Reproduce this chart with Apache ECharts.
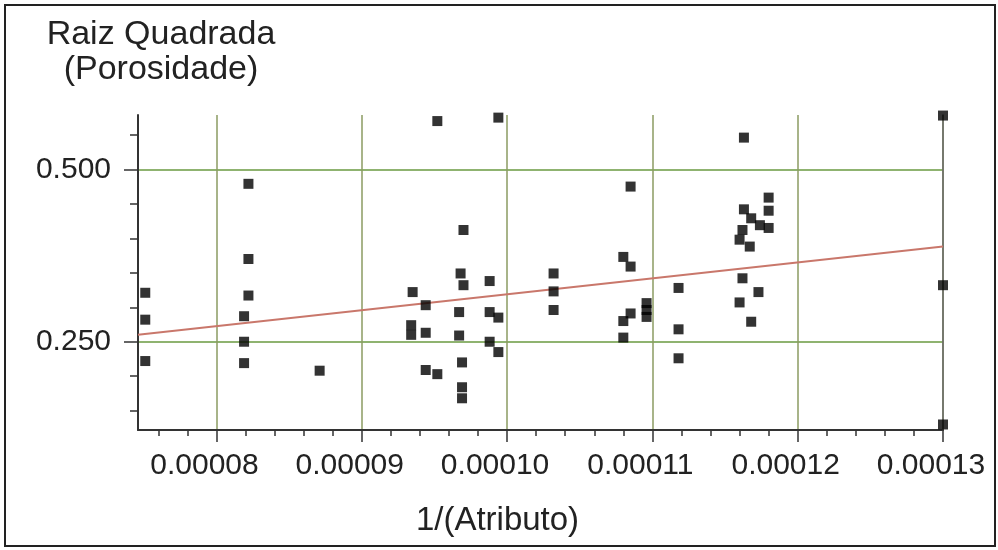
<!DOCTYPE html>
<html lang="pt">
<head>
  <meta charset="UTF-8" />
  <title>Raiz Quadrada (Porosidade)</title>
  <style>
    body { margin: 0; background: #fff }
    #chart { width: 998px; height: 550px }
  </style>
  <script src="https://cdn.jsdelivr.net/npm/echarts@6/dist/echarts.min.js"></script>
</head>
<body>
  <div id="chart"></div>
  <script>
    // eixos
    const xMin = 0.0000746, xMax = 0.00013;
    const yMin = 0.122, yMax = 0.5788;
    const xMajorTicks = [0.00008, 0.00009, 0.00010, 0.00011, 0.00012, 0.00013];
    const yMajorTicks = [0.25, 0.5];
    const yMinorTicks = [0.15, 0.2, 0.25, 0.3, 0.35, 0.4, 0.45, 0.5, 0.55];

    // pontos
    const xVals = [
      0.0000751, 0.0000751, 0.0000751,
      0.0000822, 0.0000822, 0.0000822, 0.0000819, 0.0000819, 0.0000819,
      0.0000871,
      0.0000952, 0.0000994, 0.0000970, 0.0000968, 0.0000970, 0.0000988,
      0.0000935, 0.0000944, 0.0000967, 0.0000988, 0.0000994, 0.0000934,
      0.0000934, 0.0000944, 0.0000967, 0.0000988, 0.0000994, 0.0000944,
      0.0000952, 0.0000969, 0.0000969, 0.0000969,
      0.0001032, 0.0001032, 0.0001032,
      0.0001085, 0.0001080, 0.0001085, 0.0001085, 0.0001080, 0.0001080,
      0.0001096, 0.0001096, 0.0001096,
      0.0001118, 0.0001118, 0.0001118,
      0.0001163, 0.0001180, 0.0001180, 0.0001180, 0.0001163, 0.0001168,
      0.0001174, 0.0001162, 0.0001160, 0.0001167, 0.0001162, 0.0001173,
      0.0001160, 0.0001168,
      0.00013, 0.00013, 0.00013
    ];
    const yVals = [
      0.321, 0.282, 0.222,
      0.479, 0.370, 0.317, 0.287, 0.250, 0.219,
      0.208,
      0.570, 0.575, 0.412, 0.349, 0.332, 0.338,
      0.322, 0.303, 0.293, 0.293, 0.285, 0.274,
      0.260, 0.263, 0.259, 0.250, 0.235, 0.209,
      0.203, 0.220, 0.184, 0.168,
      0.349, 0.323, 0.296,
      0.475, 0.373, 0.359, 0.291, 0.280, 0.256,
      0.306, 0.296, 0.286,
      0.328, 0.268, 0.226,
      0.546, 0.459, 0.440, 0.415, 0.442, 0.429,
      0.419, 0.412, 0.398, 0.388, 0.342, 0.322,
      0.307, 0.279,
      0.578, 0.332, 0.130
    ];

    // reta de regressao
    const trendX = [0.0000746, 0.00013];
    const trendY = [0.260, 0.388];

    // ticks menores do eixo x (a cada 0.000002)
    const xMinorTicks = [];
    for (let i = 38; i <= 65; i++) xMinorTicks.push(i * 0.000002);

    const font = "'Liberation Sans', Arial, sans-serif";
    const tickColor = '#333';

    const chart = echarts.init(document.getElementById('chart'));
    chart.setOption({
      backgroundColor: '#fff',
      animation: false,
      title: {
        text: 'Raiz Quadrada\n(Porosidade)',
        left: 161, top: 17, padding: 0,
        textAlign: 'center',
        textStyle: { fontFamily: font, fontSize: 34, fontWeight: 'normal', color: '#222', lineHeight: 35 }
      },
      graphic: [{
        type: 'rect',
        shape: { x: 5, y: 5, width: 990, height: 541 },
        style: { fill: 'none', stroke: '#222', lineWidth: 2 }
      }],
      grid: { left: 138, right: 55, top: 115, bottom: 120 },
      xAxis: [
        {
          type: 'value', min: xMin, max: xMax, position: 'bottom',
          name: '1/(Atributo)', nameLocation: 'middle', nameGap: 74,
          nameTextStyle: { fontFamily: font, fontSize: 33, color: '#222', padding: [0, 86, 0, 0] },
          axisLine: { lineStyle: { color: tickColor, width: 2 } },
          axisTick: { customValues: xMajorTicks, length: 12, lineStyle: { color: tickColor, width: 1.5 } },
          axisLabel: {
            customValues: xMajorTicks, margin: 21, padding: [0, 24, 0, 0],
            fontFamily: font, fontSize: 30, color: '#222',
            formatter: v => v.toFixed(5)
          },
          splitLine: { show: true, lineStyle: { color: '#8b9b62', width: 1.5 } }
        },
        {
          type: 'value', min: xMin, max: xMax, position: 'bottom',
          axisLine: { show: false },
          axisTick: { customValues: xMinorTicks, length: 6, lineStyle: { color: tickColor, width: 1.5 } },
          axisLabel: { show: false },
          splitLine: { show: false }
        }
      ],
      yAxis: [
        {
          type: 'value', min: yMin, max: yMax, position: 'left',
          axisLine: { show: true, lineStyle: { color: tickColor, width: 2 } },
          axisTick: { show: true, customValues: yMajorTicks, length: 14, lineStyle: { color: tickColor, width: 1.5 } },
          axisLabel: {
            customValues: yMajorTicks, margin: 27,
            fontFamily: font, fontSize: 30, color: '#222',
            formatter: v => v.toFixed(3)
          },
          splitLine: { show: true, lineStyle: { color: '#6a9a40', width: 1.5 } }
        },
        {
          type: 'value', min: yMin, max: yMax, position: 'left',
          axisLine: { show: false },
          axisTick: { show: true, customValues: yMinorTicks, length: 8, lineStyle: { color: tickColor, width: 1.5 } },
          axisLabel: { show: false },
          splitLine: { show: false }
        },
        {
          type: 'value', min: yMin, max: yMax, position: 'right',
          axisLine: { show: true, lineStyle: { color: '#666', width: 1.5 } },
          axisTick: { show: false },
          axisLabel: { show: false },
          splitLine: { show: false }
        }
      ],
      series: [
        {
          type: 'line',
          data: trendX.map((x, i) => [x, trendY[i]]),
          showSymbol: false,
          lineStyle: { color: '#c9776b', width: 2 },
          z: 3
        },
        {
          type: 'scatter',
          data: xVals.map((x, i) => [x, yVals[i]]),
          symbol: 'rect',
          symbolSize: 10,
          itemStyle: { color: '#000' },
          z: 4
        }
      ]
    });
  </script>
</body>
</html>
